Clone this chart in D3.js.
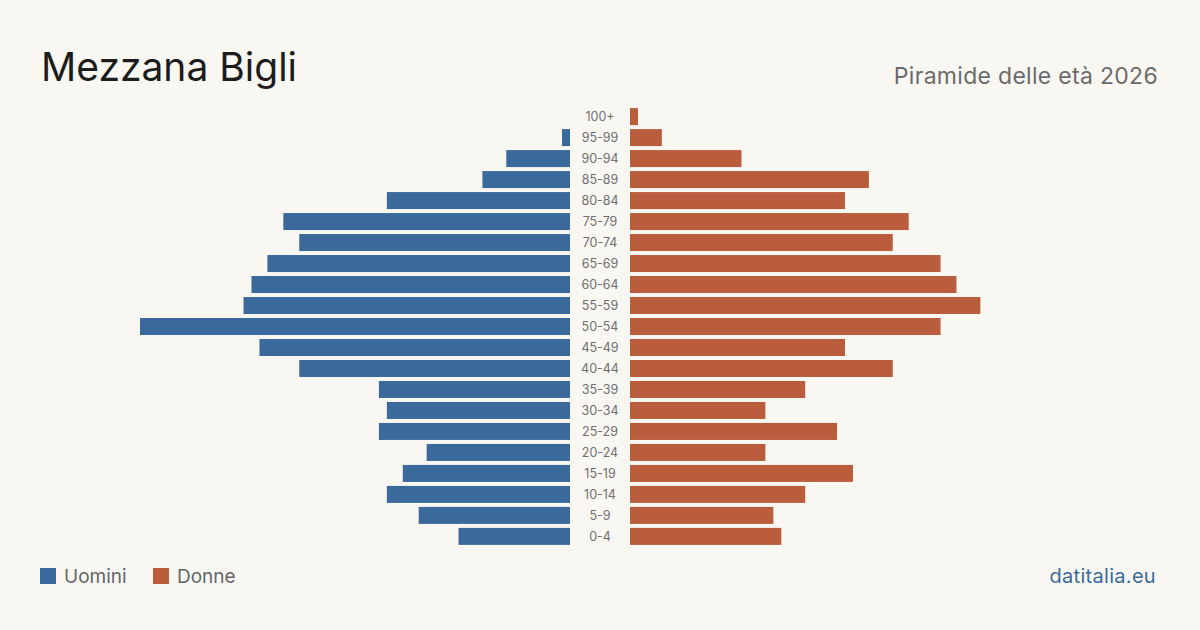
<!DOCTYPE html>
<html>
<head>
<meta charset="utf-8">
<script src="https://cdn.jsdelivr.net/npm/d3@7"></script>
<style>
  body { margin: 0; background: #f9f7f2; }
  svg { display: block; font-family: Inter, "Noto Sans", sans-serif; }
</style>
</head>
<body>
<svg id="chart" width="1200" height="630"></svg>
<script>
const ageGroups = ['100+', '95-99', '90-94', '85-89', '80-84', '75-79', '70-74', '65-69', '60-64', '55-59',
    '50-54', '45-49', '40-44', '35-39', '30-34', '25-29', '20-24', '15-19', '10-14', '5-9', '0-4']
const maleCounts = [0, 1, 8, 11, 23, 36, 34, 38, 40, 41, 54, 39, 34, 24, 23, 24, 18, 21, 23, 19, 14]
const femaleCounts = [1, 4, 14, 30, 27, 35, 33, 39, 41, 44, 39, 27, 33, 22, 17, 26, 17, 28, 22, 18, 19]

const BLUE = '#3a6a9c'
const ORANGE = '#b95d3d'

const svg = d3.select('#chart')
svg.append('rect').attr('width', 1200).attr('height', 630).attr('fill', '#f9f7f2')

// Titles
svg.append('text').attr('x', 41).attr('y', 81)
    .attr('font-size', 39).attr('fill', '#1c1c1c').text('Mezzana Bigli')
svg.append('text').attr('x', 1158).attr('y', 84).attr('text-anchor', 'end')
    .attr('font-size', 23).attr('letter-spacing', 0.3).attr('fill', '#6b6b6b').text('Piramide delle età 2026')

// Scales
const maxVal = d3.max(maleCounts.concat(femaleCounts))
const x = d3.scaleLinear().domain([0, maxVal]).range([0, 430])
const y = d3.scaleBand().domain(ageGroups).range([106, 547]).paddingInner(0.19).paddingOuter(0.1)

const leftEdge = 570, rightEdge = 630

const rows = ageGroups.map((g, i) => ({ group: g, m: maleCounts[i], f: femaleCounts[i] }))

svg.append('g').selectAll('rect').data(rows).enter().append('rect')
    .attr('x', d => leftEdge - x(d.m))
    .attr('y', d => y(d.group))
    .attr('width', d => x(d.m))
    .attr('height', y.bandwidth())
    .attr('fill', BLUE)

svg.append('g').selectAll('rect').data(rows).enter().append('rect')
    .attr('x', rightEdge)
    .attr('y', d => y(d.group))
    .attr('width', d => x(d.f))
    .attr('height', y.bandwidth())
    .attr('fill', ORANGE)

svg.append('g').selectAll('text').data(rows).enter().append('text')
    .attr('x', 600)
    .attr('y', d => y(d.group) + y.bandwidth() / 2)
    .attr('dy', '0.35em')
    .attr('text-anchor', 'middle')
    .attr('font-size', 12.5)
    .attr('fill', '#6f6f6f')
    .text(d => d.group)

// Legend
const legend = [{ label: 'Uomini', color: BLUE, x: 40 }, { label: 'Donne', color: ORANGE, x: 153 }]
const lg = svg.append('g').selectAll('g').data(legend).enter().append('g')
lg.append('rect').attr('x', d => d.x).attr('y', 568).attr('width', 16).attr('height', 16).attr('fill', d => d.color)
lg.append('text').attr('x', d => d.x + 24).attr('y', 583)
    .attr('font-size', 19).attr('fill', '#666').text(d => d.label)

svg.append('text').attr('x', 1156).attr('y', 583).attr('text-anchor', 'end')
    .attr('font-size', 20).attr('letter-spacing', 0.3).attr('fill', '#3a6a9c').text('datitalia.eu')
</script>
</body>
</html>
